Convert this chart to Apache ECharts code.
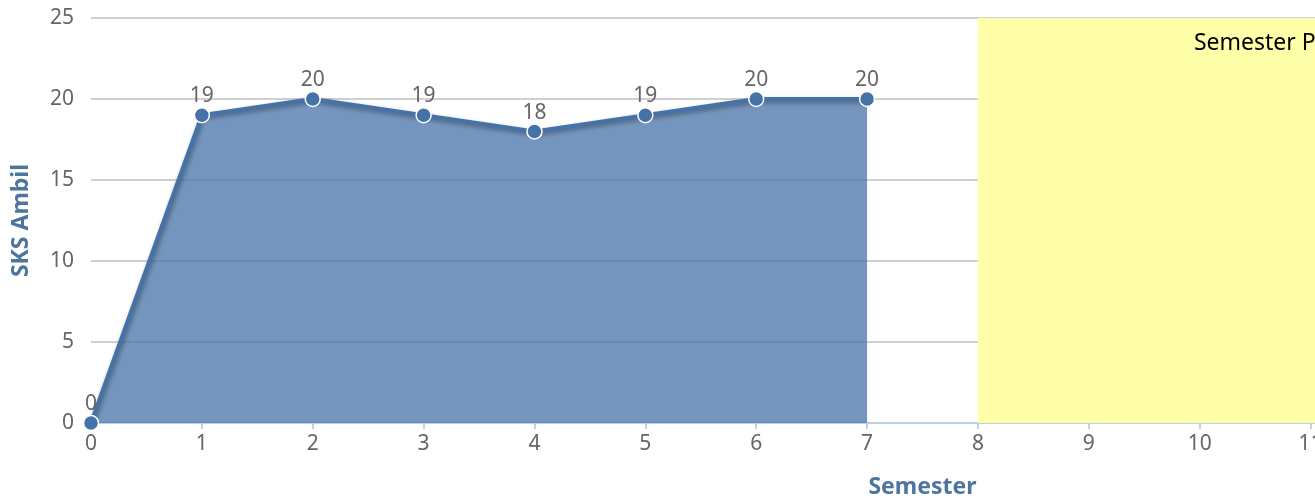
<!DOCTYPE html>
<html>
<head>
<meta charset="utf-8">
<script src="https://cdn.jsdelivr.net/npm/echarts@6/dist/echarts.min.js"></script>
<style>
html,body{margin:0;padding:0;overflow:hidden;background:#fff;}
#chart{width:1760px;height:501px;}
</style>
</head>
<body>
<div id="chart"></div>
<script>
const semesters = [0, 1, 2, 3, 4, 5, 6, 7];
const sksAmbil = [0, 19, 20, 19, 18, 19, 20, 20];
const bandStart = 8;
const bandEnd = 15;
const bandLabel = 'Semester Pendek';
const xMax = 15;
const yMax = 25;

const font = "'Noto Sans', 'DejaVu Sans', sans-serif";
const chart = echarts.init(document.getElementById('chart'), null, {renderer: 'canvas'});
chart.setOption({
  animation: false,
  backgroundColor: '#ffffff',
  grid: {left: 91, right: 6, top: 18, bottom: 78, containLabel: false, outerBoundsMode: 'none'},
  xAxis: {
    type: 'value', min: 0, max: xMax, interval: 1,
    name: 'Semester', nameLocation: 'middle', nameGap: 53,
    nameTextStyle: {color: '#4D759E', fontSize: 23, fontWeight: 'bold', fontFamily: font},
    axisLine: {show: true, lineStyle: {color: '#C0D0E0', width: 2}},
    axisTick: {show: true, length: 6, lineStyle: {color: '#C0D0E0', width: 2}},
    axisLabel: {color: '#666666', fontSize: 21, fontFamily: font, margin: 11},
    splitLine: {show: false}
  },
  yAxis: {
    type: 'value', min: 0, max: yMax, interval: 5,
    name: 'SKS Ambil', nameLocation: 'middle', nameGap: 58,
    nameTextStyle: {color: '#4D759E', fontSize: 23, fontWeight: 'bold', fontFamily: font},
    axisLine: {show: false},
    axisTick: {show: false},
    axisLabel: {color: '#666666', fontSize: 21, fontFamily: font, margin: 17},
    splitLine: {show: true, lineStyle: {color: '#C0C0C0', width: 1.5}}
  },
  series: [
    {
      type: 'line',
      z: -1,
      data: [],
      silent: true,
      markArea: {
        silent: true,
        itemStyle: {color: '#FFFFAA'},
        label: {show: true, position: [216, 14], color: '#000000', fontSize: 23, fontFamily: font},
        data: [[{xAxis: bandStart, yAxis: 0, name: bandLabel}, {xAxis: bandEnd, yAxis: yMax}]]
      }
    },
    {
      type: 'line',
      data: semesters.map((s, i) => [s, sksAmbil[i]]),
      symbol: 'circle',
      symbolSize: 15,
      itemStyle: {color: '#4572A7', borderColor: '#ffffff', borderWidth: 1.5},
      lineStyle: {color: '#4572A7', width: 4, shadowColor: 'rgba(0,0,0,0.35)', shadowBlur: 4, shadowOffsetX: 1, shadowOffsetY: 2},
      areaStyle: {color: '#4572A7', opacity: 0.75},
      label: {show: true, position: 'top', distance: 0, color: '#666666', fontSize: 21, fontFamily: font}
    }
  ]
});
</script>
</body>
</html>
